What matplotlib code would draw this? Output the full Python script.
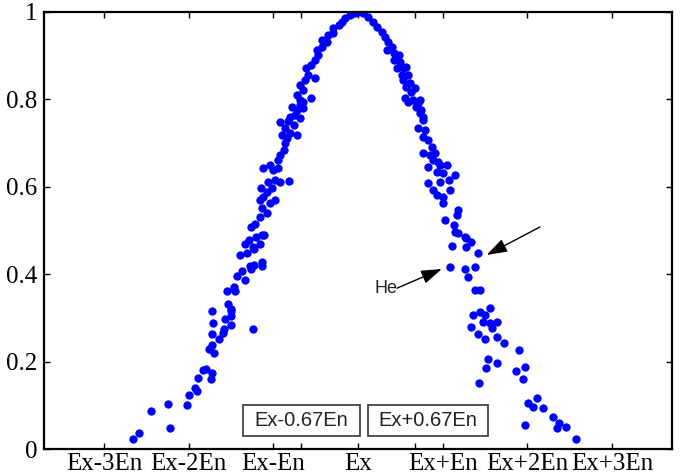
import numpy as np
import matplotlib
matplotlib.use("Agg")
import matplotlib.pyplot as plt
from matplotlib.patches import Rectangle

# cloud drops (x in En units around Ex, y = membership)
x_left = [-2.66, -2.59, -2.44, -2.24, -2.22, -2.02, -2.00, -1.92, -1.90, -1.89,
          -1.83, -1.80, -1.74, -1.72, -1.76, -1.70, -1.72, -1.72, -1.71, -1.72,
          -1.64, -1.60, -1.58, -1.57, -1.54, -1.50, -1.50, -1.50, -1.55, -1.45,
          -1.50, -1.47, -1.43, -1.37, -1.34, -1.28, -1.23, -1.27, -1.13, -1.13,
          -1.39, -1.31, -1.23, -1.16, -1.20, -1.11, -1.33, -1.29, -1.24, -1.24,
          -1.26, -1.22, -1.14, -1.16, -1.08, -1.14, -1.16, -1.12, -1.04, -0.98,
          -1.15, -1.08, -1.02, -1.06, -0.98, -0.92, -0.82, -1.12, -1.04, -1.00,
          -0.94, -0.94, -0.92, -0.88, -0.86, -0.84, -0.90, -0.80, -0.72, -0.86,
          -0.92, -0.83, -0.76, -0.80, -0.74, -0.68, -0.78, -0.72, -0.68, -0.65,
          -0.65, -0.68, -0.72, -0.65, -0.55, -0.68, -0.63, -0.59, -0.51, -0.61,
          -0.55, -0.51, -0.47, -0.49, -0.43, -0.43, -0.37, -0.35, -0.29, -0.29,
          -0.23, -0.19, -0.15, -0.09, -0.04, 0.00]
y_left = [0.023, 0.036, 0.086, 0.103, 0.047, 0.100, 0.123, 0.140, 0.133, 0.162,
          0.181, 0.183, 0.160, 0.173, 0.230, 0.220, 0.237, 0.316, 0.289, 0.263,
          0.252, 0.265, 0.274, 0.297, 0.332, 0.316, 0.304, 0.284, 0.362, 0.361,
          0.320, 0.370, 0.396, 0.408, 0.387, 0.419, 0.422, 0.411, 0.419, 0.429,
          0.443, 0.448, 0.457, 0.468, 0.486, 0.490, 0.469, 0.478, 0.274, 0.463,
          0.509, 0.515, 0.490, 0.532, 0.539, 0.551, 0.570, 0.577, 0.562, 0.570,
          0.597, 0.589, 0.597, 0.612, 0.616, 0.612, 0.614, 0.642, 0.650, 0.638,
          0.642, 0.661, 0.673, 0.684, 0.700, 0.711, 0.719, 0.722, 0.719, 0.734,
          0.749, 0.751, 0.741, 0.760, 0.764, 0.757, 0.783, 0.776, 0.787, 0.795,
          0.780, 0.799, 0.810, 0.822, 0.803, 0.833, 0.844, 0.856, 0.848, 0.871,
          0.879, 0.890, 0.902, 0.913, 0.921, 0.936, 0.932, 0.947, 0.951, 0.963,
          0.970, 0.978, 0.986, 0.993, 0.998, 0.999]

x_right = [0.06, 0.12, 0.18, 0.22, 0.28, 0.32, 0.36, 0.34, 0.40, 0.42,
           0.48, 0.42, 0.50, 0.46, 0.53, 0.57, 0.52, 0.59, 0.53, 0.61,
           0.57, 0.67, 0.63, 0.55, 0.65, 0.73, 0.69, 0.75, 0.77, 0.59,
           0.71, 0.73, 0.77, 0.71, 0.79, 0.77, 0.83, 0.87, 0.77, 0.85,
           0.91, 0.89, 0.95, 0.83, 0.97, 1.05, 0.93, 1.01, 1.15, 0.83,
           0.89, 0.97, 1.07, 0.93, 1.01, 1.09, 1.01, 1.18, 1.17, 1.03,
           1.13, 1.15, 1.26, 1.34, 1.11, 1.28, 1.18, 1.28, 1.42, 1.09,
           1.26, 1.38, 1.30, 1.38, 1.44, 1.56, 1.36, 1.44, 1.50, 1.34,
           1.48, 1.56, 1.64, 1.58, 1.42, 1.50, 1.64, 1.72, 1.90, 1.54,
           1.64, 1.51, 1.87, 1.97, 1.95, 1.43, 2.01, 2.07, 2.12, 2.19,
           2.31, 2.38, 2.35, 2.46, 2.58, 1.97]
y_right = [0.997, 0.989, 0.978, 0.966, 0.955, 0.943, 0.932, 0.913, 0.921, 0.906,
           0.902, 0.890, 0.886, 0.871, 0.871, 0.875, 0.856, 0.856, 0.844, 0.837,
           0.829, 0.825, 0.818, 0.803, 0.799, 0.799, 0.783, 0.776, 0.760, 0.795,
           0.791, 0.768, 0.753, 0.734, 0.730, 0.715, 0.707, 0.692, 0.677, 0.673,
           0.677, 0.661, 0.657, 0.646, 0.650, 0.650, 0.635, 0.631, 0.627, 0.608,
           0.593, 0.612, 0.616, 0.581, 0.577, 0.593, 0.562, 0.547, 0.535, 0.524,
           0.513, 0.497, 0.486, 0.474, 0.465, 0.463, 0.494, 0.482, 0.448, 0.417,
           0.413, 0.417, 0.393, 0.364, 0.365, 0.323, 0.307, 0.314, 0.307, 0.280,
           0.291, 0.288, 0.291, 0.276, 0.263, 0.251, 0.257, 0.242, 0.227, 0.205,
           0.196, 0.185, 0.179, 0.187, 0.160, 0.152, 0.105, 0.097, 0.116, 0.095,
           0.073, 0.060, 0.047, 0.051, 0.022, 0.056]

tick_pos = [-3, -2, -1, -0.67, 0, 0.67, 1, 2, 3]
tick_txt = ['Ex-3En', 'Ex-2En', 'Ex-En', '', 'Ex', '', 'Ex+En', 'Ex+2En', 'Ex+3En']
y_pos = [0, 0.2, 0.4, 0.6, 0.8, 1]
y_txt = ['0', '0.2', '0.4', '0.6', '0.8', '1']

fig = plt.figure(figsize=(6.8, 4.74), dpi=100)
ax = fig.add_axes([0.0647, 0.0527, 0.9235, 0.922])

ax.plot(x_left + x_right, y_left + y_right, 'o', color='#0000ff',
        markersize=6, markeredgewidth=0, linestyle='none')

ax.set_xlim(-3.71, 3.71)
ax.set_ylim(0, 1)
ax.set_xticks(tick_pos)
ax.set_xticklabels(tick_txt)
ax.set_yticks(y_pos)
ax.set_yticklabels(y_txt)
ax.tick_params(direction='in', length=4, width=1, top=True, right=True,
               labelsize=18, pad=5)
ax.tick_params(axis='x', pad=3)
for lab in ax.get_xticklabels() + ax.get_yticklabels():
    lab.set_family('Liberation Serif')
for s in ax.spines.values():
    s.set_linewidth(1.6)

# the two boxes
for x0, x1, txt in [(-1.358, 0.024, 'Ex-0.67En'), (0.118, 1.535, 'Ex+0.67En')]:
    ax.add_patch(Rectangle((x0, 0.030), x1 - x0, 0.071, fill=False,
                           edgecolor='#444444', linewidth=1.3))
    ax.text((x0 + x1) / 2, 0.066, txt, ha='center', va='center',
            fontsize=14.5, family='Liberation Sans', color='#222222')

# He annotation
ax.text(0.19, 0.368, 'He', ha='left', va='center', fontsize=13,
        family='Liberation Sans', color='#222222')
arrow = dict(arrowstyle='-|>,head_length=0.9,head_width=0.3', color='black',
             lw=1, mutation_scale=14, shrinkA=0, shrinkB=0)
ax.annotate('', xy=(0.99, 0.412), xytext=(0.46, 0.368), arrowprops=arrow)
ax.annotate('', xy=(1.52, 0.444), xytext=(2.15, 0.508), arrowprops=arrow)

fig.savefig('out.png', dpi=100)
